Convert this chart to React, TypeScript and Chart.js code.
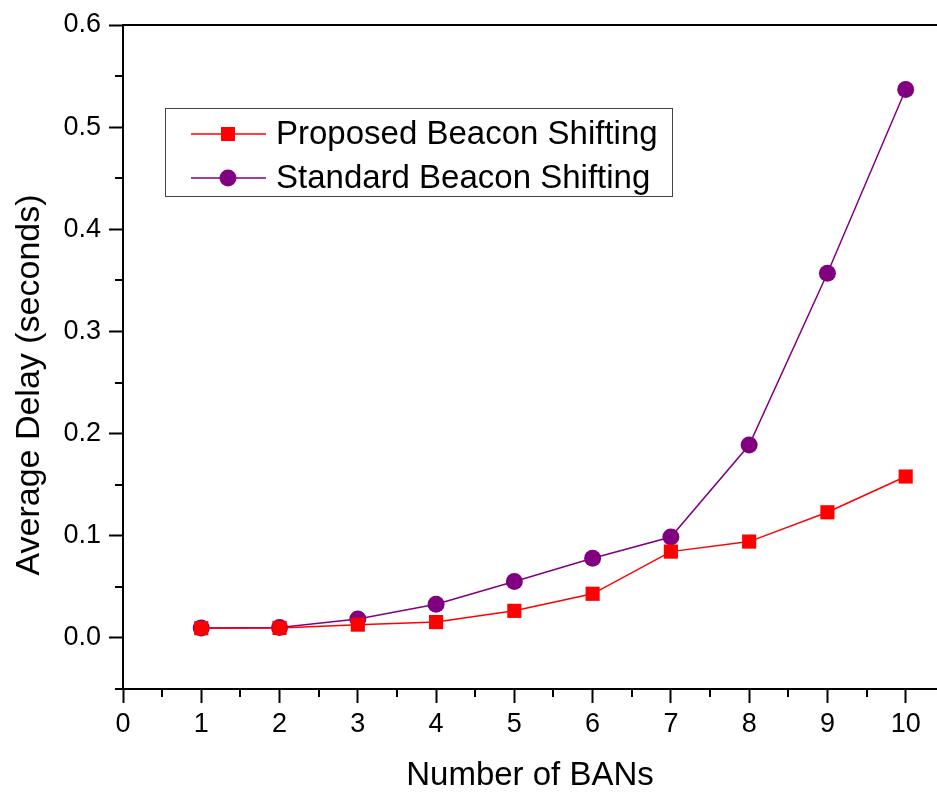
import React, { useEffect, useRef } from "react";
import { Chart, registerables } from "chart.js";

Chart.register(...registerables);

const numBANs = [1, 2, 3, 4, 5, 6, 7, 8, 9, 10];
const proposedDelay = [0.0095, 0.0098, 0.013, 0.0155, 0.0265, 0.0432, 0.0845, 0.0943, 0.123, 0.158];
const standardDelay = [0.0098, 0.0102, 0.0185, 0.033, 0.0553, 0.078, 0.0987, 0.1888, 0.357, 0.5368];
const xMinorTicks = [0.5, 1.5, 2.5, 3.5, 4.5, 5.5, 6.5, 7.5, 8.5, 9.5];
const yMinorTicks = [-0.05, 0.05, 0.15, 0.25, 0.35, 0.45, 0.55];
const seriesNames = ["Proposed Beacon Shifting", "Standard Beacon Shifting"];
const xTitle = "Number of BANs";
const yTitle = "Average Delay (seconds)";

const RED = "#ff0000";
const PURPLE = "#800080";
const FONT = "'Liberation Sans', Arial, sans-serif";

export default function App() {
  const ref = useRef<HTMLCanvasElement | null>(null);

  useEffect(() => {
    const canvas = ref.current;
    if (!canvas) return;

    const decor = {
      id: "decor",
      afterDraw(chart: any) {
        const ctx = chart.ctx;
        const { left, right, top, bottom } = chart.chartArea;
        const xs = chart.scales.x;
        const ys = chart.scales.y;
        ctx.save();
        // top border
        ctx.strokeStyle = "#000";
        ctx.lineWidth = 2;
        ctx.beginPath();
        ctx.moveTo(left - 1, top);
        ctx.lineTo(right, top);
        ctx.stroke();
        // minor ticks
        ctx.lineWidth = 2;
        ctx.beginPath();
        xMinorTicks.forEach((v) => {
          const px = Math.round(xs.getPixelForValue(v));
          ctx.moveTo(px, bottom);
          ctx.lineTo(px, bottom + 8);
        });
        yMinorTicks.forEach((v) => {
          const py = Math.round(ys.getPixelForValue(v));
          ctx.moveTo(left, py);
          ctx.lineTo(left - 8, py);
        });
        ctx.stroke();

        // y title
        ctx.fillStyle = "#000";
        ctx.font = `34px ${FONT}`;
        ctx.textAlign = "center";
        ctx.textBaseline = "middle";
        ctx.translate(30, 385);
        ctx.rotate(-Math.PI / 2);
        ctx.fillText(yTitle, 0, 0);
        ctx.setTransform(1, 0, 0, 1, 0, 0);

        // legend
        const bx = left + 43;
        const by = top + 84;
        ctx.strokeStyle = "#444";
        ctx.lineWidth = 1;
        ctx.strokeRect(bx - 0.5, by - 0.5, 507, 88);
        const rows = [
          { y: by + 25, color: RED, shape: "rect" },
          { y: by + 69, color: PURPLE, shape: "circle" },
        ];
        rows.forEach((r, i) => {
          ctx.strokeStyle = r.color;
          ctx.lineWidth = 1.5;
          ctx.beginPath();
          ctx.moveTo(bx + 25, r.y);
          ctx.lineTo(bx + 100, r.y);
          ctx.stroke();
          ctx.fillStyle = r.color;
          const cx = bx + 62;
          if (r.shape === "rect") {
            ctx.fillRect(cx - 7, r.y - 7, 14, 14);
          } else {
            ctx.beginPath();
            ctx.arc(cx, r.y, 8.5, 0, Math.PI * 2);
            ctx.fill();
          }
          ctx.fillStyle = "#000";
          ctx.font = `33px ${FONT}`;
          ctx.textAlign = "left";
          ctx.textBaseline = "middle";
          ctx.fillText(seriesNames[i], bx + 110, r.y + 1);
        });
        ctx.restore();
      },
    };

    const chart = new Chart(canvas, {
      type: "line",
      data: {
        datasets: [
          {
            label: seriesNames[0],
            data: numBANs.map((x, i) => ({ x, y: proposedDelay[i] })),
            borderColor: RED,
            backgroundColor: RED,
            borderWidth: 1.5,
            pointStyle: "rect",
            pointRadius: 10,
            pointBorderWidth: 0,
            pointBackgroundColor: RED,
            tension: 0,
            clip: 20,
          },
          {
            label: seriesNames[1],
            data: numBANs.map((x, i) => ({ x, y: standardDelay[i] })),
            borderColor: PURPLE,
            backgroundColor: PURPLE,
            borderWidth: 1.5,
            pointStyle: "circle",
            pointRadius: 8.5,
            pointBorderWidth: 0,
            pointBackgroundColor: PURPLE,
            tension: 0,
            clip: 20,
          },
        ],
      },
      options: {
        responsive: false,
        animation: false,
        devicePixelRatio: 1,
        layout: { autoPadding: false, padding: { top: 25, right: 0, left: 0, bottom: 0 } },
        plugins: {
          legend: { display: false },
          tooltip: { enabled: false },
        },
        scales: {
          x: {
            type: "linear",
            min: 0,
            max: 10.4,
            afterFit: (s: any) => {
              s.height = 103;
              s.paddingLeft = 0;
              s.paddingRight = 0;
            },
            border: { display: true, color: "#000", width: 2 },
            grid: {
              drawOnChartArea: false,
              drawTicks: true,
              tickLength: 14,
              tickColor: "#000",
              tickWidth: 2,
            },
            ticks: {
              stepSize: 1,
              includeBounds: false,
              color: "#000",
              font: { family: FONT, size: 27 },
              padding: 5,
              maxRotation: 0,
            },
            title: {
              display: true,
              text: xTitle,
              color: "#000",
              font: { family: FONT, size: 33, lineHeight: 1 },
              padding: { top: 0, bottom: 0 },
            },
          },
          y: {
            type: "linear",
            min: -0.05,
            max: 0.6,
            afterFit: (s: any) => {
              s.width = 123;
              s.paddingTop = 0;
              s.paddingBottom = 0;
            },
            border: { display: true, color: "#000", width: 2 },
            grid: {
              drawOnChartArea: false,
              drawTicks: true,
              tickLength: 14,
              tickColor: "#000",
              tickWidth: 2,
            },
            ticks: {
              stepSize: 0.1,
              includeBounds: false,
              color: "#000",
              font: { family: FONT, size: 27 },
              padding: 8,
              callback: (v: any) => Number(v).toFixed(1),
            },
          },
        },
      },
      plugins: [decor],
    });

    return () => chart.destroy();
  }, []);

  return (
    <div style={{ position: "fixed", left: 0, top: 0, width: 937, height: 792, background: "#fff" }}>
      <canvas ref={ref} width={937} height={792} style={{ display: "block" }} />
    </div>
  );
}
